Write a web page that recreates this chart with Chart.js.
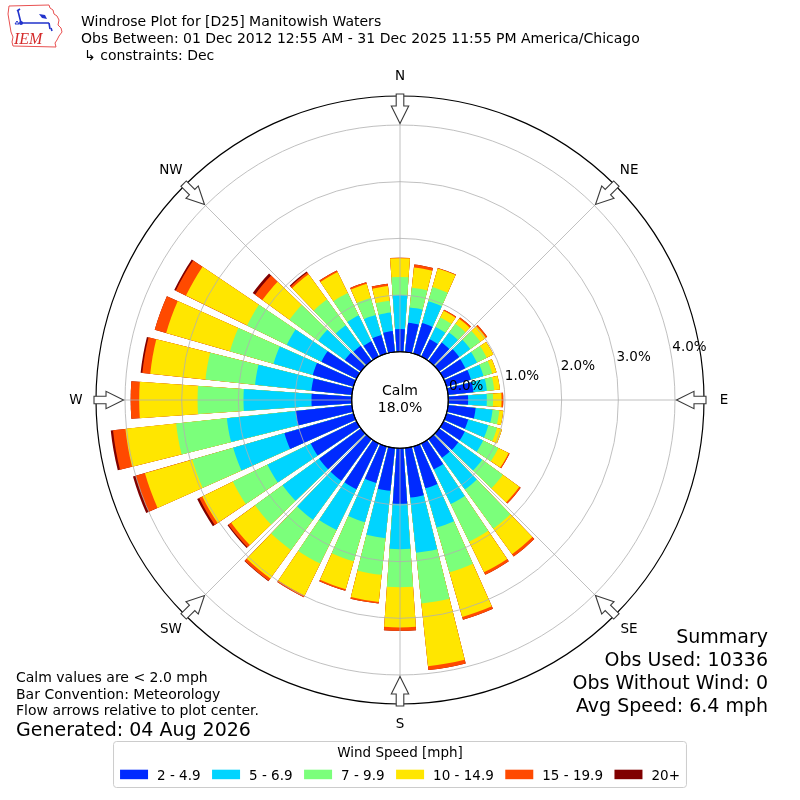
<!DOCTYPE html>
<html>
<head>
<meta charset="utf-8">
<script src="https://cdn.jsdelivr.net/npm/chart.js@4.4.1/dist/chart.umd.min.js"></script>
<style>
html,body{margin:0;padding:0;background:#ffffff;}
#wrap{width:800px;height:800px;position:relative;}
</style>
</head>
<body>
<div id="wrap"><canvas id="c" width="800" height="800"></canvas></div>
<script>
// ---------------- DATA ----------------
const directions = [0,10,20,30,40,50,60,70,80,90,100,110,120,130,140,150,160,170,
                    180,190,200,210,220,230,240,250,260,270,280,290,300,310,320,330,340,350];
const speedLabels = ['2 - 4.9','5 - 6.9','7 - 9.9','10 - 14.9','15 - 19.9','20+'];
const speedColors = ['#002aff','#00d4ff','#7bff7b','#ffe600','#ff4a00','#800000'];
// percent of observations per direction (0..350 deg) for each speed bin
const pct_2_5   = [0.40,0.52,0.56,0.34,0.40,0.44,0.43,0.45,0.45,0.35,0.49,0.40,0.42,0.42,0.41,0.51,0.77,0.88,
                   0.98,0.76,0.67,0.90,0.91,0.91,0.90,1.27,1.00,0.71,0.72,0.75,0.69,0.35,0.33,0.30,0.34,0.37];
const pct_5_7   = [0.60,0.27,0.40,0.24,0.22,0.24,0.23,0.23,0.24,0.33,0.30,0.37,0.36,0.52,0.69,0.68,0.72,0.98,
                   0.80,0.84,0.72,0.80,0.85,0.80,0.85,0.94,1.22,1.20,1.00,0.72,0.68,0.58,0.45,0.51,0.37,0.33];
const pct_7_10  = [0.32,0.35,0.26,0.19,0.19,0.22,0.19,0.16,0.13,0.11,0.12,0.16,0.30,0.45,0.85,0.74,0.82,0.90,
                   0.67,0.65,0.72,0.66,0.66,0.60,0.68,0.75,0.90,0.81,0.88,0.80,0.78,0.63,0.56,0.44,0.31,0.21];
const pct_10_15 = [0.33,0.36,0.34,0.13,0.11,0.12,0.13,0.08,0.10,0.15,0.07,0.09,0.20,0.36,0.56,0.60,0.82,1.11,
                   0.71,0.48,0.51,0.63,0.62,0.52,0.60,0.87,0.90,1.03,0.98,1.17,1.20,0.59,0.55,0.41,0.26,0.26];
const pct_15_20 = [0.01,0.05,0.01,0.02,0.03,0.03,0.00,0.00,0.00,0.03,0.00,0.00,0.02,0.03,0.05,0.05,0.05,0.07,
                   0.06,0.03,0.03,0.03,0.05,0.06,0.06,0.17,0.22,0.15,0.14,0.21,0.20,0.16,0.04,0.03,0.03,0.04];
const pct_20up  = [0.00,0.00,0.00,0.00,0.00,0.00,0.00,0.00,0.00,0.00,0.00,0.00,0.00,0.00,0.00,0.00,0.00,0.00,
                   0.00,0.00,0.00,0.00,0.01,0.02,0.04,0.05,0.04,0.00,0.03,0.00,0.03,0.05,0.02,0.00,0.00,0.00];
const calmPct = 18.0;
const gridTicks = [0,1,2,3,4];
const compass = ['N','NE','E','SE','S','SW','W','NW'];
const titleLines = ['Windrose Plot for [D25] Manitowish Waters',
                    'Obs Between: 01 Dec 2012 12:55 AM - 31 Dec 2025 11:55 PM America/Chicago',
                    '\u21b3 constraints: Dec'];
const noteLines = ['Calm values are < 2.0 mph','Bar Convention: Meteorology','Flow arrows relative to plot center.'];
const generatedText = 'Generated: 04 Aug 2026';
const summaryLines = ['Summary','Obs Used: 10336','Obs Without Wind: 0','Avg Speed: 6.4 mph'];
const legendTitle = 'Wind Speed [mph]';

// ---------------- CONFIG ----------------
const FONT = '"DejaVu Sans", "Liberation Sans", sans-serif';
const BAR_DEG = 8, GAP_DEG = 2;
const R_MIN = -0.852, R_MAX = 4.512;

const bins = [pct_2_5, pct_5_7, pct_7_10, pct_10_15, pct_15_20, pct_20up];
// stacked (cumulative) radii per bin; each bar followed by an empty gap slot
const stacked = bins.map((b, k) => directions.map((d, i) => {
  let s = 0; for (let j = 0; j <= k; j++) s += bins[j][i]; return +s.toFixed(3);
}));
const withGaps = arr => arr.flatMap(v => [v, null]);
const slotLabels = directions.flatMap(d => [d + '\u00b0', '']);

const datasets = bins.map((b, k) => ({
  label: speedLabels[k],
  data: withGaps(stacked[k]),
  backgroundColor: speedColors[k],
  borderWidth: 0,
  angle: ctx => (ctx.dataIndex % 2 === 0 ? BAR_DEG : GAP_DEG)
}));

function rOf(scale, v) { return scale.getDistanceFromCenterForValue(v); }

const decorPlugin = {
  id: 'decor',
  afterDatasetsDraw(chart) {
    const ctx = chart.ctx, s = chart.scales.r;
    const cx = s.xCenter, cy = s.yCenter, r0 = rOf(s, 0), R = s.drawingArea;
    ctx.save();
    // calm disk
    ctx.beginPath(); ctx.arc(cx, cy, r0, 0, Math.PI * 2);
    ctx.fillStyle = '#ffffff'; ctx.fill();
    // angle lines
    ctx.strokeStyle = '#b0b0b0'; ctx.lineWidth = 0.8;
    for (let i = 0; i < 8; i++) {
      const a = i * Math.PI / 4;
      const sx = Math.sin(a), sy = -Math.cos(a);
      ctx.beginPath();
      ctx.moveTo(cx + sx * r0, cy + sy * r0);
      ctx.lineTo(cx + sx * R, cy + sy * R);
      ctx.stroke();
    }
    ctx.beginPath(); ctx.arc(cx, cy, r0, 0, Math.PI * 2);
    ctx.strokeStyle = '#000'; ctx.lineWidth = 1.1; ctx.stroke();
    ctx.fillStyle = '#000'; ctx.textAlign = 'center'; ctx.textBaseline = 'middle';
    ctx.font = '14px ' + FONT;
    ctx.fillText('Calm', cx, cy - 9);
    ctx.fillText(calmPct.toFixed(1) + '%', cx, cy + 8);
    ctx.restore();
  },
  afterDraw(chart) {
    const ctx = chart.ctx, s = chart.scales.r;
    const cx = s.xCenter, cy = s.yCenter, R = s.drawingArea;
    ctx.save();
    // outer frame
    ctx.beginPath(); ctx.arc(cx, cy, R, 0, Math.PI * 2);
    ctx.strokeStyle = '#000'; ctx.lineWidth = 1.2; ctx.stroke();
    // radial tick labels
    ctx.fillStyle = '#000'; ctx.font = '13.5px ' + FONT;
    ctx.textAlign = 'left'; ctx.textBaseline = 'alphabetic';
    const la = 10 * Math.PI / 180;
    gridTicks.forEach(v => {
      const r = rOf(s, v);
      ctx.fillText(v.toFixed(1) + '%', cx + r * Math.cos(la) + 1.5, cy - r * Math.sin(la) - 1.5);
    });
    // arrows and compass labels
    const tipR = rOf(s, gridTicks[gridTicks.length - 1]) + 1.5;
    const headR = tipR + 17.5, tailR = R + 2;
    compass.forEach((lab, i) => {
      const a = i * Math.PI / 4;
      const ux = Math.sin(a), uy = -Math.cos(a);
      const px = Math.cos(a), py = Math.sin(a);
      const P = (rr, w) => [cx + ux * rr + px * w, cy + uy * rr + py * w];
      const pts = [P(tipR, 0), P(headR, -8.7), P(headR, -3.8), P(tailR, -3.8), P(tailR, 3.8), P(headR, 3.8), P(headR, 8.7)];
      ctx.beginPath();
      pts.forEach((p, j) => j ? ctx.lineTo(p[0], p[1]) : ctx.moveTo(p[0], p[1]));
      ctx.closePath();
      ctx.fillStyle = '#ffffff'; ctx.fill();
      ctx.strokeStyle = '#3a3a3a'; ctx.lineWidth = 1.1; ctx.stroke();
      ctx.fillStyle = '#000'; ctx.font = '13.5px ' + FONT;
      ctx.textAlign = 'center'; ctx.textBaseline = 'middle';
      ctx.fillText(lab, cx + ux * (R + 20), cy + uy * (R + 20));
    });
    // title
    ctx.textAlign = 'left'; ctx.textBaseline = 'alphabetic'; ctx.fillStyle = '#000';
    ctx.font = '14px ' + FONT;
    ctx.fillText(titleLines[0], 81, 25.5);
    ctx.fillText(titleLines[1], 81, 42.5);
    ctx.fillText(titleLines[2], 84, 59.5);
    // notes
    ctx.font = '14px ' + FONT;
    noteLines.forEach((t, i) => ctx.fillText(t, 16, 682 + i * 16.5));
    ctx.font = '19px ' + FONT;
    ctx.fillText(generatedText, 16, 736);
    ctx.textAlign = 'right';
    summaryLines.forEach((t, i) => ctx.fillText(t, 768, 643 + i * 23));
    // legend
    ctx.font = '13.5px ' + FONT; ctx.textAlign = 'left';
    const sw = 28, gapT = 9, spacing = 11.5;
    const widths = speedLabels.map(t => ctx.measureText(t).width);
    let total = 0;
    widths.forEach((w, i) => { total += sw + gapT + w + (i < widths.length - 1 ? spacing : 0); });
    let x = 400 - total / 2;
    const boxL = x - 6.5, boxR = x + total + 6.5, boxT = 741.5, boxB = 787.5;
    ctx.beginPath();
    if (ctx.roundRect) ctx.roundRect(boxL, boxT, boxR - boxL, boxB - boxT, 3); else ctx.rect(boxL, boxT, boxR - boxL, boxB - boxT);
    ctx.fillStyle = 'rgba(255,255,255,0.8)'; ctx.fill();
    ctx.strokeStyle = '#cccccc'; ctx.lineWidth = 1; ctx.stroke();
    ctx.fillStyle = '#000'; ctx.textAlign = 'center';
    ctx.fillText(legendTitle, 400, 757);
    ctx.textAlign = 'left';
    speedLabels.forEach((t, i) => {
      ctx.fillStyle = speedColors[i];
      ctx.fillRect(x, 769.7, sw, 9.5);
      ctx.fillStyle = '#000';
      ctx.fillText(t, x + sw + gapT, 779.5);
      x += sw + gapT + widths[i] + spacing;
    });
    // logo
    drawLogo(ctx);
    ctx.restore();
  }
};

function drawLogo(ctx) {
  ctx.save();
  ctx.strokeStyle = '#e85050'; ctx.lineWidth = 1;
  const pts = [[9,6],[49,5],[50,8],[53,10],[54,14],[57,16],[59,20],[58,25],[61,28],[62,32],[59,36],[57,40],[55,43],[56,47],[13,46],[12,42],[13,37],[11,32],[10,26],[9,20],[8,14]];
  ctx.beginPath();
  pts.forEach((p, i) => i ? ctx.lineTo(p[0], p[1]) : ctx.moveTo(p[0], p[1]));
  ctx.closePath(); ctx.stroke();
  ctx.strokeStyle = '#2233cc'; ctx.fillStyle = '#2233cc'; ctx.lineWidth = 1.6;
  ctx.beginPath(); ctx.moveTo(18, 11); ctx.lineTo(21, 23); ctx.lineTo(49, 23); ctx.stroke();
  ctx.beginPath(); ctx.moveTo(17, 11); ctx.lineTo(20, 9); ctx.stroke();
  ctx.beginPath(); ctx.arc(21, 23, 2, 0, Math.PI * 2); ctx.fill();
  ctx.beginPath(); ctx.moveTo(39, 14); ctx.lineTo(45, 15); ctx.lineTo(47, 19); ctx.lineTo(42, 18); ctx.closePath(); ctx.fill();
  ctx.beginPath(); ctx.moveTo(49, 23); ctx.lineTo(50, 29); ctx.stroke();
  ctx.beginPath(); ctx.moveTo(51, 28); ctx.lineTo(52, 31); ctx.stroke();
  ctx.lineWidth = 1;
  ctx.beginPath(); ctx.moveTo(15, 24); ctx.lineTo(17, 21); ctx.lineTo(19, 24); ctx.closePath(); ctx.stroke();
  ctx.fillStyle = '#d42a2a';
  ctx.font = 'italic 16px "Liberation Serif", "DejaVu Serif", serif';
  ctx.textAlign = 'left'; ctx.textBaseline = 'alphabetic';
  ctx.fillText('IEM', 14, 44);
  ctx.restore();
}

new Chart(document.getElementById('c'), {
  type: 'polarArea',
  data: { labels: slotLabels, datasets },
  options: {
    responsive: false,
    animation: false,
    events: [],
    layout: { padding: { left: 96, right: 96, top: 96, bottom: 96 } },
    plugins: { legend: { display: false }, tooltip: { enabled: false } },
    scales: {
      r: {
        min: R_MIN, max: R_MAX,
        startAngle: -BAR_DEG / 2,
        beginAtZero: false,
        ticks: { display: false },
        afterBuildTicks: sc => { sc.ticks = gridTicks.map(v => ({ value: v })); },
        grid: {
          z: 1, circular: true,
          color: c => (c.tick && c.tick.value === 0) ? '#000000' : '#b0b0b0',
          lineWidth: c => (c.tick && c.tick.value === 0) ? 1.1 : 0.8
        },
        angleLines: { display: false },
        pointLabels: { display: false }
      }
    }
  },
  plugins: [decorPlugin]
});
</script>
</body>
</html>
